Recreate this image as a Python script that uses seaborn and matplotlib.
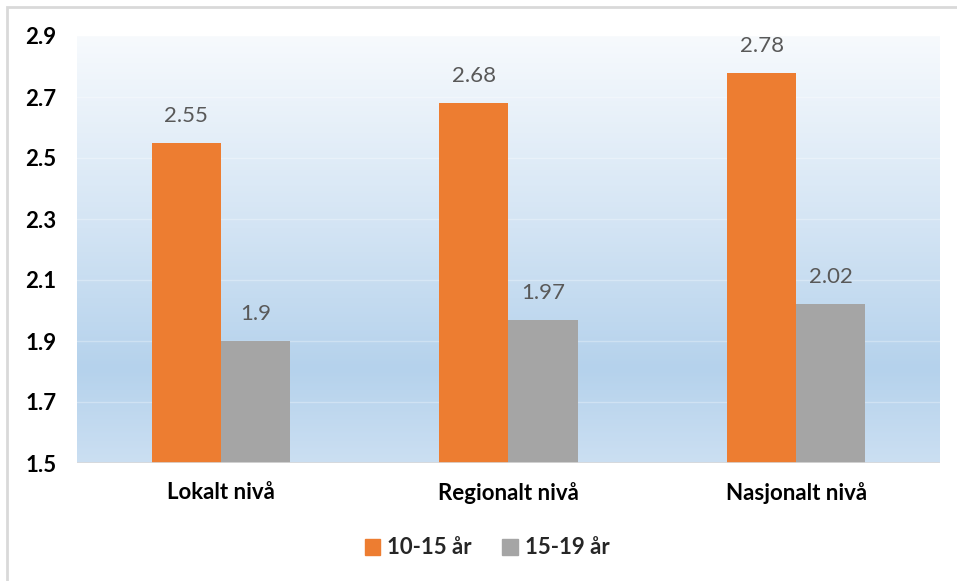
import numpy as np
import pandas as pd
import matplotlib
matplotlib.use("Agg")
import matplotlib.pyplot as plt
from matplotlib.colors import LinearSegmentedColormap
from matplotlib.patches import Rectangle
import seaborn as sns

categories = ["Lokalt nivå", "Regionalt nivå", "Nasjonalt nivå"]
series_names = ["10-15 år", "15-19 år"]
values_10_15 = [2.55, 2.68, 2.78]
values_15_19 = [1.9, 1.97, 2.02]
y_ticks = [1.5, 1.7, 1.9, 2.1, 2.3, 2.5, 2.7, 2.9]

df = pd.DataFrame({
    "kategori": categories * 2,
    "gruppe": [series_names[0]] * 3 + [series_names[1]] * 3,
    "verdi": values_10_15 + values_15_19,
})

sns.set_theme(style="white")
plt.rcParams["font.family"] = ["Lato", "DejaVu Sans"]

W, H = 957, 581
fig = plt.figure(figsize=(W / 100, H / 100), dpi=100)
fig.patch.set_facecolor("white")

# outer chart frame
fig.patches.append(Rectangle((7 / W, -0.1), 2.0, 1.0 - 7 / H + 0.1,
                             transform=fig.transFigure, fill=False,
                             edgecolor="#D9D9D9", linewidth=2, zorder=0))

ax = fig.add_axes([77 / W, (H - 463) / H, (940 - 77) / W, (463 - 36) / H])

palette = {series_names[0]: "#ED7D31", series_names[1]: "#A5A5A5"}
sns.barplot(data=df, x="kategori", y="verdi", hue="gruppe", order=categories,
            hue_order=series_names, palette=palette, width=0.48, gap=0,
            saturation=1, ax=ax, zorder=3, legend=False)
for p in ax.patches:
    p.set_linewidth(0)

# vertical gradient background of the plot area
grad_cmap = LinearSegmentedColormap.from_list(
    "bg", [(0.0, "#CBDFF2"), (0.22, "#B5D2EC"), (0.55, "#D3E4F4"), (1.0, "#F7FAFD")])
grad = np.linspace(0, 1, 256).reshape(-1, 1)
ax.imshow(grad, aspect="auto", cmap=grad_cmap, origin="lower",
          extent=(-0.5, 2.5, 1.5, 2.9), zorder=0, interpolation="bicubic")
ax.set_xlim(-0.5, 2.5)
ax.set_ylim(1.5, 2.9)

for y in y_ticks[1:]:
    ax.axhline(y, color="white", alpha=0.3, linewidth=1.0, zorder=1)
ax.axhline(1.5, color="#D9D9D9", linewidth=1.2, zorder=4)

for s in ax.spines.values():
    s.set_visible(False)

ax.set_yticks(y_ticks)
ax.set_yticklabels([f"{t:.1f}" for t in y_ticks])
ax.tick_params(axis="y", length=0, pad=15, labelsize=16)
ax.tick_params(axis="x", length=0, pad=14, labelsize=16)
for lab in ax.get_yticklabels() + ax.get_xticklabels():
    lab.set_fontweight("bold")
    lab.set_color("black")
ax.set_xlabel("")
ax.set_ylabel("")

# value labels above bars
for container, vals in zip(ax.containers, [values_10_15, values_15_19]):
    for bar, v in zip(container, vals):
        ax.annotate(f"{v:g}", (bar.get_x() + bar.get_width() / 2, v),
                    xytext=(0, 19.5), textcoords="offset points",
                    ha="center", va="center", fontsize=16, color="#595959",
                    zorder=5)

handles = [Rectangle((0, 0), 1, 1, color=palette[n]) for n in series_names]
leg = fig.legend(handles, series_names, loc="center", bbox_to_anchor=(487 / W, 1 - 548 / H),
                 ncol=2, frameon=False, handlelength=0.7, handleheight=0.7,
                 handletextpad=0.3, columnspacing=1.4,
                 prop={"weight": "bold", "size": 16})

fig.savefig("out.png", dpi=100, facecolor="white")
